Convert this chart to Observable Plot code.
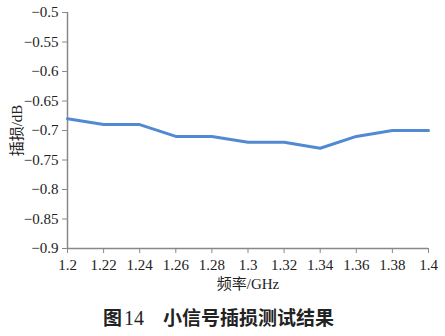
<!DOCTYPE html>
<html>
<head>
<meta charset="utf-8">
<script src="https://cdn.jsdelivr.net/npm/d3@7"></script>
<script src="https://cdn.jsdelivr.net/npm/@observablehq/plot@0.6"></script>
<style>
  body { margin: 0; background: #fff; }
  #wrap { position: relative; width: 445px; height: 336px; }
  #cap { position: absolute; left: 103px; top: 304px; white-space: nowrap; line-height: 26px;
         font-family: "Noto Sans CJK SC", sans-serif; font-weight: bold; font-size: 19px; color: #222; }
  #cap .num { font-family: "Liberation Serif", serif; font-weight: normal; font-size: 20px; margin-left: 2px; margin-right: 19px; }
</style>
</head>
<body>
<div id="wrap"><div id="chart"></div><div id="cap">图<span class="num">14</span>小信号插损测试结果</div></div>
<script>
const freq = [1.2, 1.22, 1.24, 1.26, 1.28, 1.3, 1.32, 1.34, 1.36, 1.38, 1.4];
const loss = [-0.68, -0.69, -0.69, -0.71, -0.71, -0.72, -0.72, -0.73, -0.71, -0.70, -0.70];
const xTicks = [1.2, 1.22, 1.24, 1.26, 1.28, 1.3, 1.32, 1.34, 1.36, 1.38, 1.4];
const yTicks = [-0.9, -0.85, -0.8, -0.75, -0.7, -0.65, -0.6, -0.55, -0.5];
const xLabel = "频率/GHz";
const yLabel = "插损/dB";

const data = freq.map((f, i) => ({f, v: loss[i]}));
const fmt = d => d3.format("")(d);
const font = '"Liberation Serif", "Noto Sans CJK SC", serif';

const chart = Plot.plot({
  width: 445,
  height: 300,
  marginLeft: 67,
  marginRight: 17,
  marginTop: 12,
  marginBottom: 52,
  style: {fontFamily: font, fontSize: "15px", color: "#222", background: "#fff"},
  x: {domain: [1.2, 1.4]},
  y: {domain: [-0.9, -0.5]},
  marks: [
    Plot.axisX({ticks: xTicks, tickFormat: fmt, tickSize: 5, tickPadding: 6, stroke: "#888",
                label: xLabel, labelAnchor: "center", labelArrow: "none", labelOffset: 40, fontSize: 15}),
    Plot.axisY({ticks: yTicks, tickFormat: fmt, tickSize: 5, tickPadding: 4, stroke: "#888",
                label: yLabel, labelAnchor: "center", labelArrow: "none", labelOffset: 56, fontSize: 15}),
    Plot.ruleX([1.2], {stroke: "#888", strokeWidth: 1.5}),
    Plot.ruleY([-0.9], {stroke: "#888", strokeWidth: 1.5}),
    Plot.line(data, {x: "f", y: "v", stroke: "#5189d3", strokeWidth: 3})
  ]
});
document.getElementById("chart").appendChild(chart);
</script>
</body>
</html>
